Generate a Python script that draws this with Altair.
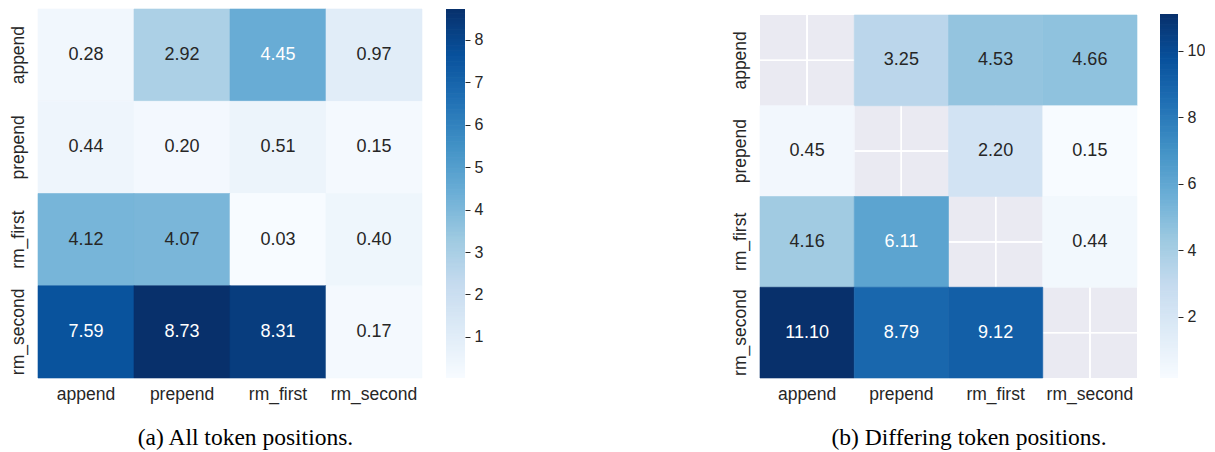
import altair as alt
import pandas as pd

cats = ["append", "prepend", "rm_first", "rm_second"]

# rows = y categories (top to bottom), columns = x categories
vals_a = [
    [0.28, 2.92, 4.45, 0.97],
    [0.44, 0.20, 0.51, 0.15],
    [4.12, 4.07, 0.03, 0.40],
    [7.59, 8.73, 8.31, 0.17],
]
vals_b = [
    [None, 3.25, 4.53, 4.66],
    [0.45, None, 2.20, 0.15],
    [4.16, 6.11, None, 0.44],
    [11.10, 8.79, 9.12, None],
]
caption_a = "(a) All token positions."
caption_b = "(b) Differing token positions."
ticks_a = [1, 2, 3, 4, 5, 6, 7, 8]
ticks_b = [2, 4, 6, 8, 10]

# matplotlib "Blues" colormap stops
BLUES = ["#f7fbff", "#deebf7", "#c6dbef", "#9ecae1", "#6baed6",
         "#4292c6", "#2171b5", "#08519c", "#08306b"]

DARK = "#262626"
SANS = "Liberation Sans"
SERIF = "Liberation Serif"


def to_df(vals):
    rows = []
    for i, r in enumerate(cats):
        for j, c in enumerate(cats):
            rows.append({"row": r, "col": c, "v": vals[i][j]})
    return pd.DataFrame(rows)


def blues_scale(lo, hi):
    k = len(BLUES) - 1
    dom = [lo + (hi - lo) * i / k for i in range(k + 1)]
    return alt.Scale(domain=dom, range=BLUES, interpolate="rgb")


def heat(vals, w, h, yrange, thresh, caption, cap_x, nan_bg):
    df = to_df(vals)
    valid = [v for r in vals for v in r if v is not None]
    lo, hi = min(valid), max(valid)
    x = alt.X(
        "col:N", sort=cats,
        scale=alt.Scale(paddingInner=0, paddingOuter=0),
        axis=alt.Axis(title=None, labelAngle=0, ticks=False, domain=False, grid=False,
                      labelPadding=7, labelFontSize=17.5, labelColor=DARK, labelFont=SANS),
    )
    y = alt.Y(
        "row:N", sort=cats,
        scale=alt.Scale(paddingInner=0, paddingOuter=0, range=yrange),
        axis=alt.Axis(title=None, labelAngle=270, labelAlign="center", labelBaseline="bottom",
                      ticks=False, domain=False, grid=False,
                      labelPadding=11, labelFontSize=17.5, labelColor=DARK, labelFont=SANS),
    )
    base = alt.Chart(df)
    layers = []
    if nan_bg:
        bg = base.mark_rect(color="#EAEAF2", strokeWidth=0).encode(x=x, y=y)
        vrule = base.mark_rule(color="white", strokeWidth=1.3).encode(x=alt.X("col:N", sort=cats))
        hrule = base.mark_rule(color="white", strokeWidth=1.3).encode(y=alt.Y("row:N", sort=cats))
        layers += [bg, vrule, hrule]
    cells = base.transform_filter("isValid(datum.v)").mark_rect(strokeWidth=0.6).encode(
        x=x, y=y,
        color=alt.Color("v:Q", scale=blues_scale(lo, hi), legend=None),
        stroke=alt.Stroke("v:Q", scale=blues_scale(lo, hi), legend=None),
    )
    txt = base.transform_filter("isValid(datum.v)").mark_text(
        font=SANS, fontSize=18, align="center", baseline="middle"
    ).encode(
        x=alt.X("col:N", sort=cats),
        y=alt.Y("row:N", sort=cats),
        text=alt.Text("v:Q", format=".2f"),
        color=alt.condition(f"datum.v > {thresh}", alt.value("white"), alt.value(DARK)),
    )
    cap = alt.Chart(pd.DataFrame({"t": [caption]})).mark_text(
        font=SERIF, fontSize=23.5, align="center", baseline="alphabetic", color="black"
    ).encode(text="t:N", x=alt.value(cap_x), y=alt.value(436))
    layers += [cells, txt, cap]
    return alt.layer(*layers).properties(width=w, height=h), lo, hi


def cbar(lo, hi, w, h, rng, ticks):
    n = 300
    step = (hi - lo) / n
    return alt.Chart(alt.sequence(0, n, 1, as_="i")).transform_calculate(
        v=f"{lo} + datum.i * {step}",
        v2=f"{lo} + min((datum.i + 1.6) * {step}, {hi - lo})",
    ).mark_rect(strokeWidth=0).encode(
        y=alt.Y("v:Q", scale=alt.Scale(domain=[lo, hi], range=rng, nice=False, zero=False),
                axis=alt.Axis(orient="right", values=ticks, title=None, domain=False, grid=False,
                              ticks=True, tickSize=5, tickWidth=1, tickColor=DARK,
                              labelPadding=4, labelFontSize=16, labelColor=DARK, labelFont=SANS)),
        y2="v2:Q",
        color=alt.Color("v:Q", scale=blues_scale(lo, hi), legend=None),
    ).properties(width=w, height=h)


ha, lo_a, hi_a = heat(vals_a, 384, 369, [0, 369], 4.3, caption_a, 207.5, False)
hb, lo_b, hi_b = heat(vals_b, 377, 369, [6, 369], 5.5, caption_b, 209, True)
ca = cbar(lo_a, hi_a, 19, 369, [369, 0], ticks_a)
cb = cbar(lo_b, hi_b, 18, 369, [369, 5], ticks_b)

left = alt.hconcat(ha, ca, spacing=23).resolve_scale(color="independent", stroke="independent", y="independent")
right = alt.hconcat(hb, cb, spacing=22).resolve_scale(color="independent", stroke="independent", y="independent")
chart = alt.hconcat(left, right, spacing=248).resolve_scale(
    color="independent", stroke="independent", y="independent", x="independent"
).properties(padding=0, background="white").configure_view(stroke=None)

chart.save("out.html", embed_options={"renderer": "svg", "actions": False})
